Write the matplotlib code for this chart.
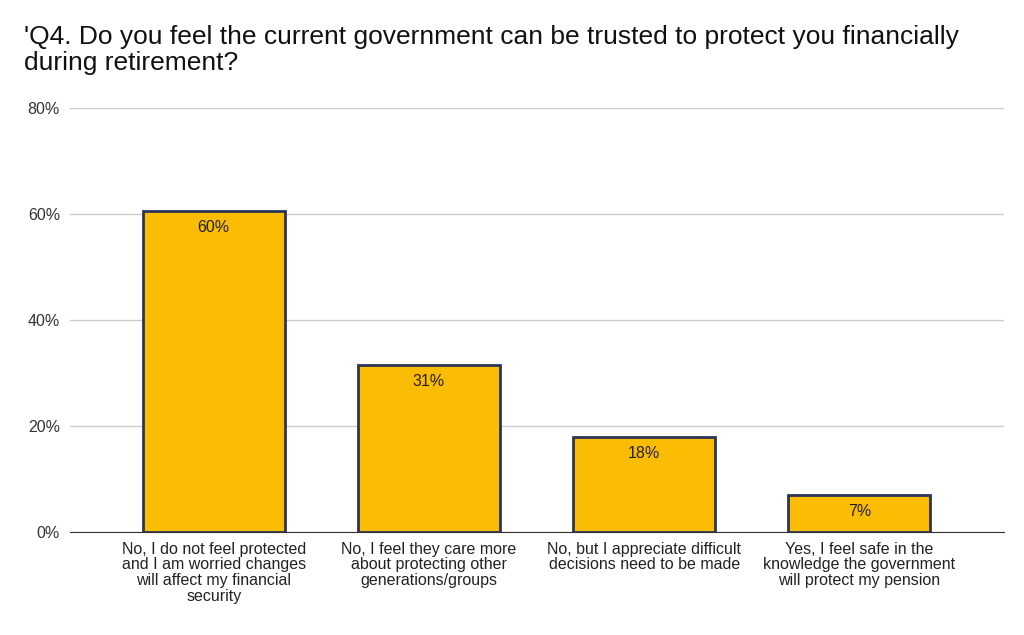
import matplotlib.pyplot as plt

categories = [
    "No, I do not feel protected\nand I am worried changes\nwill affect my financial\nsecurity",
    "No, I feel they care more\nabout protecting other\ngenerations/groups",
    "No, but I appreciate difficult\ndecisions need to be made",
    "Yes, I feel safe in the\nknowledge the government\nwill protect my pension",
]
values = [60.6, 31.5, 17.9, 7.0]
value_labels = ["60%", "31%", "18%", "7%"]
y_ticks = [0, 20, 40, 60, 80]

plt.rcParams["font.family"] = "Liberation Sans"
fig = plt.figure(figsize=(10.24, 6.35), dpi=100)
ax = fig.add_axes([0.068, 0.162, 0.912, 0.668])

x = range(len(categories))
bars = ax.bar(x, values, width=0.66, color="#fbbc04", edgecolor="#2b3459", linewidth=2, zorder=3)
for b, lab in zip(bars, value_labels):
    ax.text(b.get_x() + b.get_width() / 2, b.get_height() - 1.7, lab,
            ha="center", va="top", fontsize=11.5, color="#222222", zorder=4)

ax.set_xlim(-0.67, 3.67)
ax.set_ylim(0, 80)
ax.set_yticks(y_ticks)
ax.set_yticklabels([f"{t}%" for t in y_ticks], fontsize=11.5, color="#333333")
ax.set_xticks(list(x))
ax.set_xticklabels(categories, fontsize=11.5, color="#222222", linespacing=1.05)
ax.tick_params(length=0, pad=7)
ax.grid(axis="y", color="#cccccc", linewidth=1, zorder=0)
for s in ["top", "right", "left"]:
    ax.spines[s].set_visible(False)
ax.spines["bottom"].set_color("#333333")

fig.text(0.023, 0.96, "'Q4. Do you feel the current government can be trusted to protect you financially\nduring retirement?",
         fontsize=19, va="top", ha="left", color="#111111", linespacing=1.1)

fig.savefig("out.png", dpi=100)
